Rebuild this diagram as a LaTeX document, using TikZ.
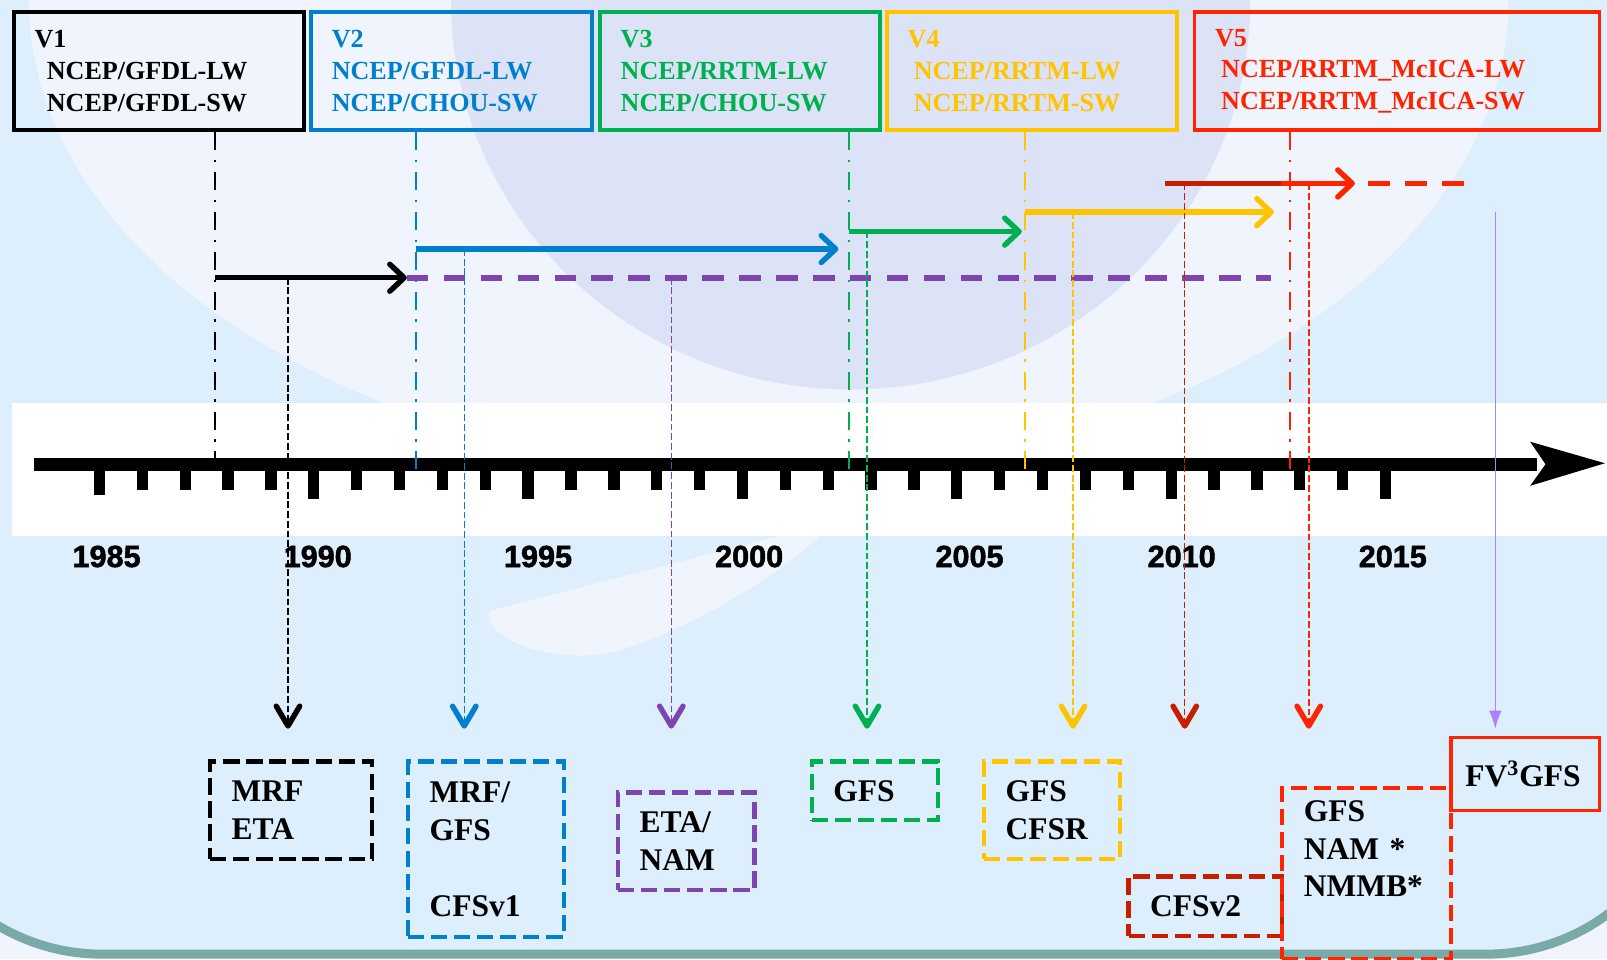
\documentclass[tikz,border=0pt]{standalone}
\usepackage{fontspec}
\setmainfont{Liberation Serif}
\newfontfamily\yearfont[FakeBold=1.6]{Liberation Sans Bold}
\usetikzlibrary{arrows.meta, positioning}
\definecolor{v2blue}{RGB}{0,128,204}
\definecolor{v3green}{RGB}{0,176,80}
\definecolor{v4yellow}{RGB}{255,196,0}
\definecolor{v5red}{RGB}{255,36,0}
\definecolor{cfsred}{RGB}{200,30,0}
\definecolor{etapurple}{RGB}{125,70,175}
\definecolor{fvviolet}{RGB}{170,130,255}
\definecolor{bgblue}{RGB}{221,238,252}
\definecolor{bgpale}{RGB}{239,244,253}
\definecolor{bglavender}{RGB}{221,227,247}
\definecolor{frameteal}{RGB}{122,170,168}
\newcommand{\topfont}{\bfseries\fontsize{14.5}{17.6}\selectfont}
\newcommand{\modelfont}{\bfseries\fontsize{17.5}{21}\selectfont}
\newcommand{\yearsize}{\yearfont\fontsize{17}{20}\selectfont}

\begin{document}
\begin{tikzpicture}[
        x=0.02cm, y=-0.02cm,
        topbox/.style={rectangle, draw, line width=2pt, minimum height=2.3cm, inner xsep=0.4cm, inner ysep=0pt, align=left, font=\topfont},
        modelbox/.style={rectangle, draw, line width=2.4pt, dash pattern=on 9pt off 3.8pt, inner xsep=0.42cm, align=left, anchor=north west, text=black, font=\modelfont},
        guide/.style={line width=1.1pt, dash pattern=on 10pt off 5.5pt on 1.2pt off 5.5pt},
        timearrow/.style={line width=3pt, -{Straight Barb[length=8pt,width=15pt,round]}},
        timedash/.style={line width=3.2pt, dash pattern=on 12pt off 8.5pt},
        drop/.style={line width=0.8pt, dash pattern=on 3.8pt off 1.6pt, -{Straight Barb[length=11pt,width=13pt,line width=3pt,round]}},
        yearlabel/.style={font=\yearsize}
    ]
    \useasboundingbox (0,0) rectangle (1568,936);
    \clip (0,0) rectangle (1568,936);

    % background
    \fill[bgpale] (0,0) rectangle (1568,936);
    \fill[bgblue, rounded corners=4cm] (-100,-300) rectangle (1650,931);
    \fill[bgpale] (750,0) ellipse [x radius=14.44cm, y radius=9.2cm];
    \fill[bglavender] (830,0) ellipse [x radius=7.8cm, y radius=7.6cm];
    \fill[bgpale] (760,523) -- (478,596) .. controls (468,622) and (540,650) .. (600,636) .. controls (680,612) and (760,560) .. (800,523) -- cycle;
    \fill[white] (12,393) rectangle (1568,523);
    \draw[frameteal, line width=5pt, rounded corners=4cm] (-100,-300) rectangle (1650,931);

    % time axis
    \fill[black] (33,447) rectangle (1500,460);
    \fill[black] (1493,431) -- (1566,452) -- (1493,474) -- (1508,453) -- cycle;
    \foreach \k in {0,...,30}{
        \pgfmathsetmacro{\tx}{97+41.83*\k}
        \pgfmathsetmacro{\tb}{ifthenelse(\k==0,483,ifthenelse(mod(\k,5)==0,487,478))}
        \fill[black] (\tx-5.5,458) rectangle (\tx+5.5,\tb);
    }
    \foreach \yr/\xx in {1985/104,1990/310,1995/525,2000/731,2005/946,2010/1153,2015/1359}
        \node[yearlabel] (y\yr) at (\xx,543) {\yr};

    % radiation versions
    \node[topbox, text width=4.86cm, anchor=north west] (v1) at (12,10) {V1\\\hspace*{6.8pt}NCEP/GFDL-LW\\\hspace*{6.8pt}NCEP/GFDL-SW};
    \node[topbox, v2blue, text width=4.68cm, right=0.07cm of v1] (v2) {V2\\NCEP/GFDL-LW\\NCEP/CHOU-SW};
    \node[topbox, v3green, text width=4.66cm, right=0.09cm of v2] (v3) {V3\\NCEP/RRTM-LW\\NCEP/CHOU-SW};
    \node[topbox, v4yellow, text width=4.86cm, right=0.07cm of v3] (v4) {V4\\\hspace*{3.4pt}NCEP/RRTM-LW\\\hspace*{3.4pt}NCEP/RRTM-SW};
    \node[topbox, v5red, text width=7.1cm, right=0.27cm of v4] (v5) {V5\\\hspace*{3.4pt}NCEP/RRTM\_McICA-LW\\\hspace*{3.4pt}NCEP/RRTM\_McICA-SW};

    \coordinate (g1) at (210,460);
    \coordinate (g2) at (406,460);
    \coordinate (g3) at (828,460);
    \coordinate (g4) at (1000,460);
    \coordinate (g5) at (1259,460);
    \draw[guide] (v1.south -| g1) -- (g1);
    \draw[guide, v2blue] (v2.south -| g2) -- (g2);
    \draw[guide, v3green] (v3.south -| g3) -- (g3);
    \draw[guide, v4yellow] (v4.south -| g4) -- (g4);
    \draw[guide, v5red] (v5.south -| g5) -- (g5);

    % periods of use
    \coordinate (h1) at (210,271);
    \coordinate (h1e) at (397,271);
    \coordinate (h2) at (406,243);
    \coordinate (h2e) at (818,243);
    \coordinate (h3) at (828,226);
    \coordinate (h3e) at (997,226);
    \coordinate (h4) at (1000,207);
    \coordinate (h4e) at (1243,207);
    \coordinate (h5a) at (1137,179);
    \coordinate (h5) at (1250,179);
    \coordinate (h5e) at (1322,179);
    \coordinate (h5d) at (1335,179);
    \coordinate (h5f) at (1430,179);
    \coordinate (pe) at (1240,271);
    \draw[timedash, etapurple] (h1e) -- (pe);
    \draw[timearrow] (h1) -- (h1e);
    \draw[timearrow, v2blue] (h2) -- (h2e);
    \draw[timearrow, v3green] (h3) -- (h3e);
    \draw[timearrow, v4yellow] (h4) -- (h4e);
    \draw[line width=3pt, cfsred] (h5a) -- (h5);
    \draw[timearrow, v5red] (h5) -- (h5e);
    \draw[timedash, v5red] (h5d) -- (h5f);

    % models
    \coordinate (tipline) at (0,711);
    \coordinate (d1) at (281,271);
    \coordinate (d2) at (453,243);
    \coordinate (d3) at (655,271);
    \coordinate (d4) at (846,226);
    \coordinate (d5) at (1047,207);
    \coordinate (d6) at (1156,179);
    \coordinate (d7) at (1277,179);
    \coordinate (d8) at (1459,207);
    \draw[drop] (d1) -- (d1 |- tipline);
    \draw[drop, v2blue] (d2) -- (d2 |- tipline);
    \draw[drop, etapurple] (d3) -- (d3 |- tipline);
    \draw[drop, v3green] (d4) -- (d4 |- tipline);
    \draw[drop, v4yellow] (d5) -- (d5 |- tipline);
    \draw[drop, cfsred] (d6) -- (d6 |- tipline);
    \draw[drop, v5red] (d7) -- (d7 |- tipline);
    \draw[fvviolet, line width=0.8pt, -{Latex[length=10pt,width=7pt]}] (d8) -- (d8 |- tipline);

    \node[modelbox, draw=black, text width=2.32cm, minimum height=1.9cm] (mrf) at (203,741) {MRF\\ETA};
    \node[modelbox, draw=v2blue, text width=2.2cm, minimum height=3.42cm] (mrfgfs) at (396,741) {MRF/\\GFS\\[21pt]CFSv1};
    \node[modelbox, draw=etapurple, text width=1.82cm, minimum height=1.9cm] (etanam) at (601,771) {ETA/\\NAM};
    \node[modelbox, draw=v3green, text width=1.62cm, minimum height=1.14cm] (gfs) at (790,741) {GFS};
    \node[modelbox, draw=v4yellow, text width=1.82cm, minimum height=1.9cm] (gfscfsr) at (958,741) {GFS\\CFSR};
    \node[modelbox, draw=cfsred, text width=2.16cm, minimum height=1.16cm] (cfsv) at (1099,853) {CFSv2};
    \node[modelbox, draw=v5red, text width=2.46cm, minimum height=3.34cm] (gfsnam) at (1249,767) {GFS\\NAM *\\NMMB*\\[7pt]\mbox{}};
    \node[modelbox, solid, draw=v5red, line width=2pt, inner xsep=0.28cm, text width=2.34cm, minimum height=1.42cm] (fvgfs) at (1414,718) {FV\textsuperscript{3}GFS};
\end{tikzpicture}
\end{document}
